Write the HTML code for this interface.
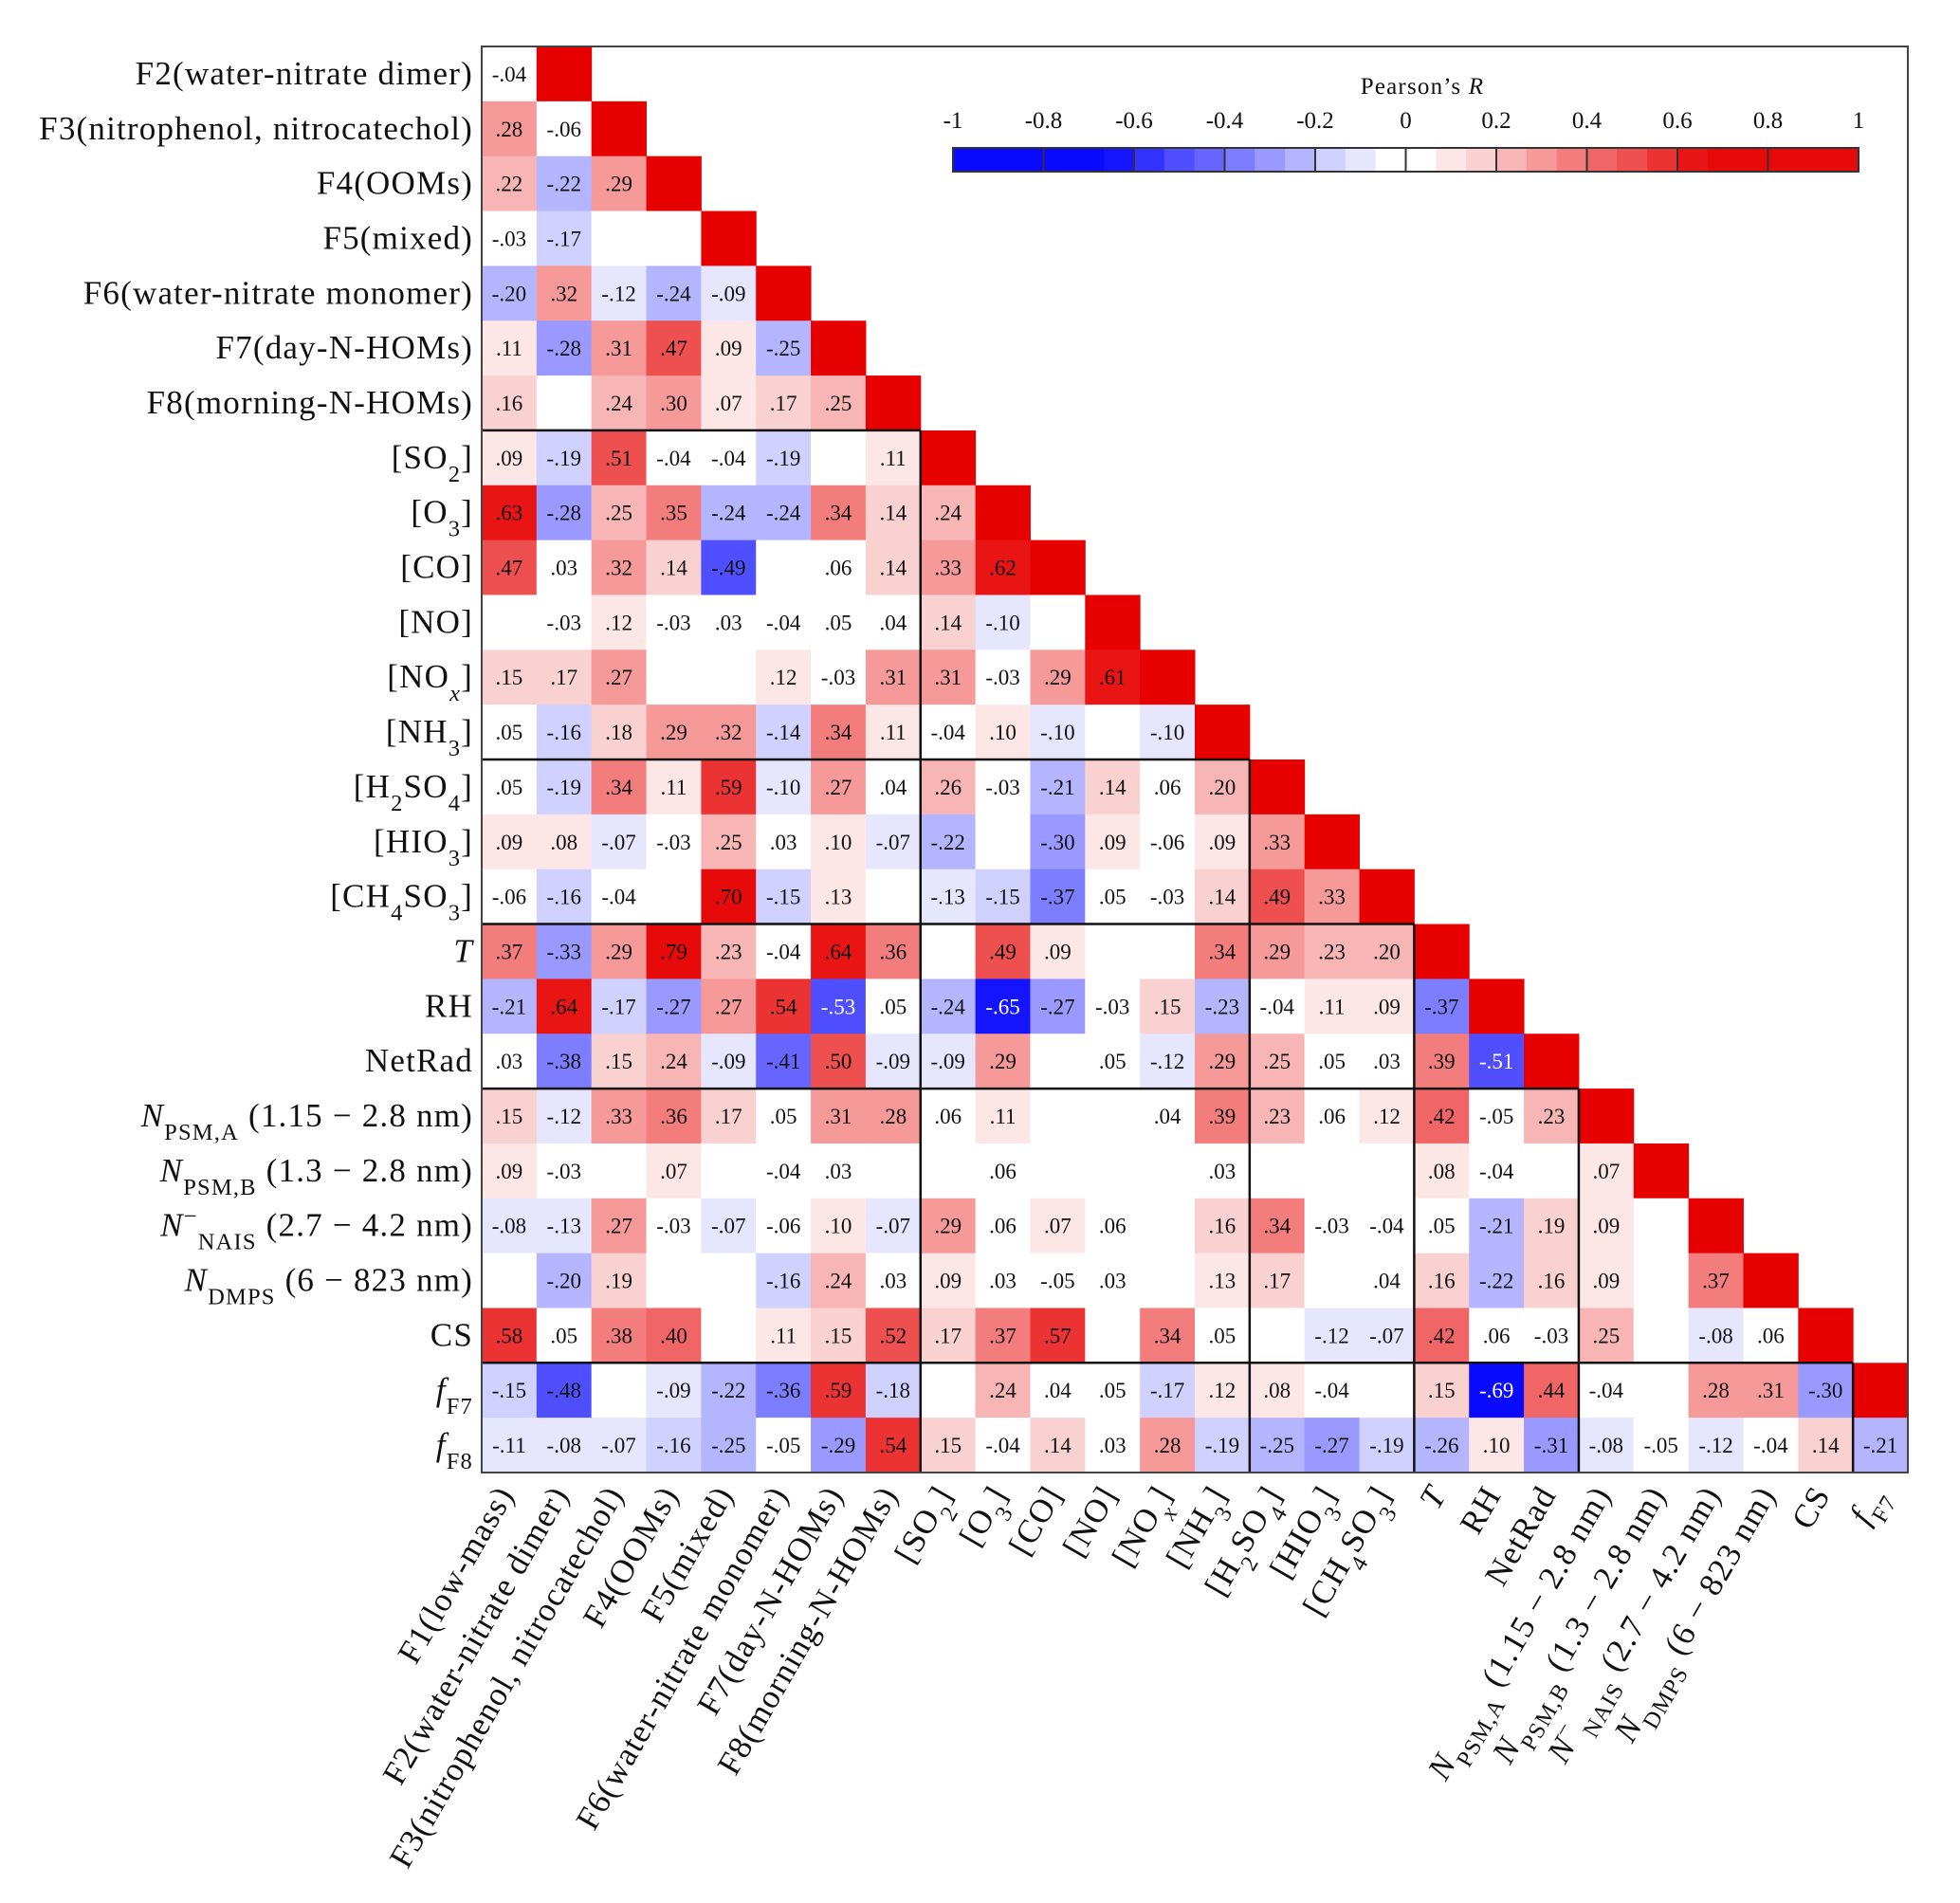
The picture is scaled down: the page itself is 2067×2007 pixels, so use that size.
<!DOCTYPE html>
<html><head><meta charset="utf-8"><style>
html,body{margin:0;padding:0;background:#fff}
svg{display:block}
text{font-family:"Liberation Serif",serif;fill:#111}
.lab{letter-spacing:1.2px}
</style></head><body>
<svg id="chart" width="2067" height="2007" viewBox="0 0 2067 2007" xmlns="http://www.w3.org/2000/svg">
<g id="cells"></g>
<g id="blocks"></g>
<rect x="508" y="49" width="1504" height="1504" fill="none" stroke="#444" stroke-width="2"/>
<g id="ylabels"></g>
<g id="xlabels"></g>
<g id="cbar"></g>
</svg>
<script>
const rowLabels = ["F2(water-nitrate dimer)","F3(nitrophenol, nitrocatechol)","F4(OOMs)","F5(mixed)","F6(water-nitrate monomer)","F7(day-N-HOMs)","F8(morning-N-HOMs)","[SO<sub>2</sub>]","[O<sub>3</sub>]","[CO]","[NO]","[NO<sub><i>x</i></sub>]","[NH<sub>3</sub>]","[H<sub>2</sub>SO<sub>4</sub>]","[HIO<sub>3</sub>]","[CH<sub>4</sub>SO<sub>3</sub>]","<i>T</i>","RH","NetRad","<i>N</i><sub>PSM,A</sub> (1.15 − 2.8 nm)","<i>N</i><sub>PSM,B</sub> (1.3 − 2.8 nm)","<i>N</i><sup>−</sup><sub>NAIS</sub> (2.7 − 4.2 nm)","<i>N</i><sub>DMPS</sub> (6 − 823 nm)","CS","<i>f</i><sub>F7</sub>","<i>f</i><sub>F8</sub>"];
const colLabels = ["F1(low-mass)","F2(water-nitrate dimer)","F3(nitrophenol, nitrocatechol)","F4(OOMs)","F5(mixed)","F6(water-nitrate monomer)","F7(day-N-HOMs)","F8(morning-N-HOMs)","[SO<sub>2</sub>]","[O<sub>3</sub>]","[CO]","[NO]","[NO<sub><i>x</i></sub>]","[NH<sub>3</sub>]","[H<sub>2</sub>SO<sub>4</sub>]","[HIO<sub>3</sub>]","[CH<sub>4</sub>SO<sub>3</sub>]","<i>T</i>","RH","NetRad","<i>N</i><sub>PSM,A</sub> (1.15 − 2.8 nm)","<i>N</i><sub>PSM,B</sub> (1.3 − 2.8 nm)","<i>N</i><sup>−</sup><sub>NAIS</sub> (2.7 − 4.2 nm)","<i>N</i><sub>DMPS</sub> (6 − 823 nm)","CS","<i>f</i><sub>F7</sub>"];
const rF2=[-.04];
const rF3=[.28,-.06];
const rF4=[.22,-.22,.29];
const rF5=[-.03,-.17,null,null];
const rF6=[-.20,.32,-.12,-.24,-.09];
const rF7=[.11,-.28,.31,.47,.09,-.25];
const rF8=[.16,null,.24,.30,.07,.17,.25];
const rSO2=[.09,-.19,.51,-.04,-.04,-.19,null,.11];
const rO3=[.63,-.28,.25,.35,-.24,-.24,.34,.14,.24];
const rCO=[.47,.03,.32,.14,-.49,null,.06,.14,.33,.62];
const rNO=[null,-.03,.12,-.03,.03,-.04,.05,.04,.14,-.10,null];
const rNOx=[.15,.17,.27,null,null,.12,-.03,.31,.31,-.03,.29,.61];
const rNH3=[.05,-.16,.18,.29,.32,-.14,.34,.11,-.04,.10,-.10,null,-.10];
const rH2SO4=[.05,-.19,.34,.11,.59,-.10,.27,.04,.26,-.03,-.21,.14,.06,.20];
const rHIO3=[.09,.08,-.07,-.03,.25,.03,.10,-.07,-.22,null,-.30,.09,-.06,.09,.33];
const rCH4SO3=[-.06,-.16,-.04,null,.70,-.15,.13,null,-.13,-.15,-.37,.05,-.03,.14,.49,.33];
const rT=[.37,-.33,.29,.79,.23,-.04,.64,.36,null,.49,.09,null,null,.34,.29,.23,.20];
const rRH=[-.21,.64,-.17,-.27,.27,.54,-.53,.05,-.24,-.65,-.27,-.03,.15,-.23,-.04,.11,.09,-.37];
const rNetRad=[.03,-.38,.15,.24,-.09,-.41,.50,-.09,-.09,.29,null,.05,-.12,.29,.25,.05,.03,.39,-.51];
const rPSMA=[.15,-.12,.33,.36,.17,.05,.31,.28,.06,.11,null,null,.04,.39,.23,.06,.12,.42,-.05,.23];
const rPSMB=[.09,-.03,null,.07,null,-.04,.03,null,null,.06,null,null,null,.03,null,null,null,.08,-.04,null,.07];
const rNAIS=[-.08,-.13,.27,-.03,-.07,-.06,.10,-.07,.29,.06,.07,.06,null,.16,.34,-.03,-.04,.05,-.21,.19,.09,null];
const rDMPS=[null,-.20,.19,null,null,-.16,.24,.03,.09,.03,-.05,.03,null,.13,.17,null,.04,.16,-.22,.16,.09,null,.37];
const rCS=[.58,.05,.38,.40,null,.11,.15,.52,.17,.37,.57,null,.34,.05,null,-.12,-.07,.42,.06,-.03,.25,null,-.08,.06];
const rfF7=[-.15,-.48,null,-.09,-.22,-.36,.59,-.18,null,.24,.04,.05,-.17,.12,.08,-.04,null,.15,-.69,.44,-.04,null,.28,.31,-.30];
const rfF8=[-.11,-.08,-.07,-.16,-.25,-.05,-.29,.54,.15,-.04,.14,.03,.28,-.19,-.25,-.27,-.19,-.26,.10,-.31,-.08,-.05,-.12,-.04,.14,-.21];
const rows=[rF2,rF3,rF4,rF5,rF6,rF7,rF8,rSO2,rO3,rCO,rNO,rNOx,rNH3,rH2SO4,rHIO3,rCH4SO3,rT,rRH,rNetRad,rPSMA,rPSMB,rNAIS,rDMPS,rCS,rfF7,rfF8];
const groupBounds=[8,14,17,20,25];
const cbTicks=[-1,-0.8,-0.6,-0.4,-0.2,0,0.2,0.4,0.6,0.8,1];

const NS="http://www.w3.org/2000/svg";
const X0=508,Y0=49,CW=1504/26,CH=1504/26;
const xs=c=>X0+c*CW, ys=r=>Y0+r*CH;
function color(v){
  const k=Math.min(10,Math.floor(Math.abs(v)/(0.2/3)+1e-9));
  if(k===0) return "#ffffff";
  const f=[1,.9,.82,.71,.6,.49,.4,.31,.2,.08,.04][k];
  const m=Math.round(255*f);
  if(v>0){const rr=Math.round(255-25*(k/10));return `rgb(${rr},${m},${m})`;}
  return `rgb(${m},${m},255)`;
}
function mk(tag,attrs,parent){const e=document.createElementNS(NS,tag);for(const a in attrs)e.setAttribute(a,attrs[a]);parent.appendChild(e);return e;}
function fmt(v){let s=Math.abs(v).toFixed(2).replace(/^0/,'');return (v<0?'-':'')+s;}
function richText(t,html){
  const re=/<(\/?)(i|sub|sup)>|([^<]+)/g;let m;let it=false,sh=0;
  while((m=re.exec(html))){
    if(m[3]!==undefined){
      const ts=document.createElementNS(NS,'tspan');ts.textContent=m[3];
      if(it)ts.setAttribute('font-style','italic');
      if(sh){ts.setAttribute('font-size','70%');ts.setAttribute('baseline-shift',sh>0?'super':'sub');}
      t.appendChild(ts);
    }else{
      const close=m[1]==='/';
      if(m[2]==='i')it=!close;else if(m[2]==='sub')sh=close?0:-1;else sh=close?0:1;
    }
  }
}
const cells=document.getElementById('cells');
rows.forEach((row,i)=>{
  row.forEach((v,c)=>{
    const fill=v===null?'#fff':color(v);
    const r=mk('rect',{x:xs(c),y:ys(i),width:CW+0.5,height:CH+0.5,fill:fill},cells);
    
    
    if(v!==null){
      const t=mk('text',{x:xs(c)+CW/2,y:ys(i)+CH/2+8,'text-anchor':'middle','font-size':23},cells);
      
      
      if(v<-0.5)t.style.fill='#fff';
      t.textContent=fmt(v);
    }
  });
  if(i+1<26){
    const d=mk('rect',{x:xs(i+1),y:ys(i),width:CW+0.5,height:CH+0.5,fill:'rgb(230,0,0)'},cells);
    
    
  }
});
const blocks=document.getElementById('blocks');
groupBounds.forEach(b=>{
  const h=mk('line',{x1:X0,x2:xs(b),y1:ys(b-1),y2:ys(b-1),stroke:'#111','stroke-width':2.5},blocks);
  
  
  const v=mk('line',{x1:xs(b),x2:xs(b),y1:ys(b-1),y2:Y0+1504,stroke:'#111','stroke-width':2.5},blocks);
  
  
});
const yl=document.getElementById('ylabels');
rowLabels.forEach((l,i)=>{
  const t=mk('text',{x:499,y:ys(i)+CH/2+11,'text-anchor':'end','font-size':35,'class':'lab'},yl);
  
  
  richText(t,l);
});
const xl=document.getElementById('xlabels');
colLabels.forEach((l,c)=>{
  const x=xs(c)+CW/2+6,y=1576;
  const t=mk('text',{x:x,y:y,'text-anchor':'end','font-size':35,'class':'lab',transform:`rotate(-60 ${x} ${y})`},xl);
  
  
  richText(t,l);
});
const cb=document.getElementById('cbar');
const CX0=1005,CX1=1960,CY=156,CHh=25;
const cx=v=>CX0+(v+1)/2*(CX1-CX0);
for(let k=0;k<30;k++){
  const a=-1+k*(2/30),mid=a+1/30;
  const r=mk('rect',{x:cx(a),y:CY,width:(CX1-CX0)/30+0.5,height:CHh,fill:color(mid)},cb);
  
  
}
cbTicks.forEach(v=>{
  const l=mk('line',{x1:cx(v),x2:cx(v),y1:CY,y2:CY+CHh,stroke:'#333','stroke-width':2},cb);
  
  
  const t=mk('text',{x:cx(v),y:135,'text-anchor':'middle','font-size':25},cb);
  
  
  t.textContent=String(v);
});
const fr=mk('rect',{x:CX0,y:CY,width:CX1-CX0,height:CHh,fill:'none',stroke:'#333','stroke-width':2},cb);


const tt=mk('text',{x:1500,y:99,'text-anchor':'middle','font-size':25,'class':'lab'},cb);


richText(tt,"Pearson’s <i>R</i>");
</script>
</body></html>
